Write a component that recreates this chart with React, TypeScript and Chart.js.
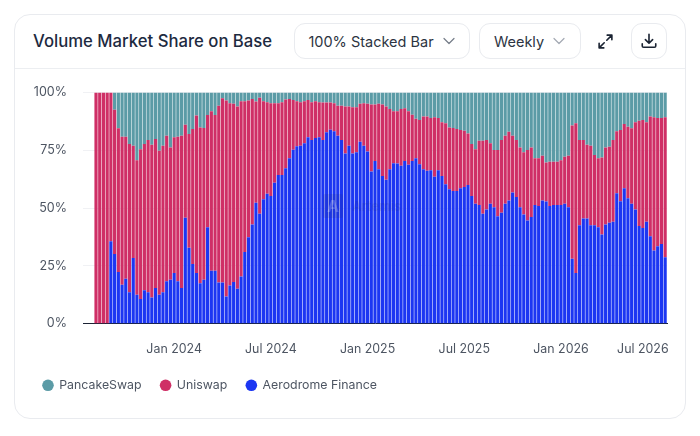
import { useEffect, useRef } from 'react';
import Chart from 'chart.js/auto';

const TICK_TEXT = ['Jan 2024', 'Jul 2024', 'Jan 2025', 'Jul 2025', 'Jan 2026', 'Jul 2026'];
const TICK_INDEX = [24, 50, 76, 102, 128, 150];
const Y_TICKS = [0, 25, 50, 75, 100];

const aerodrome = [
  0, 0, 0, 0, 0, 0, 0, 35.7, 30.1, 22.3, 16.8, 19.4, 13.6, 28.4, 12.5, 10.7, 14.5, 13.6, 11.3, 15.4,
  12.5, 13.6, 18.3, 19.0, 21.9, 18.3, 15.4, 45.8, 32.8, 25.8, 21.9, 17.5, 19.0, 41.7, 22.9, 22.9, 17.8, 17.8,
  11.7, 16.5, 18.0, 15.1, 20.4, 31.0, 37.4, 42.9, 52.3, 47.5, 53.8, 56.2, 55.2, 61.0, 64.3, 64.3, 67.2, 71.6,
  75.2, 76.7, 77.0, 78.0, 80.6, 79.4, 80.3, 80.6, 79.4, 82.8, 83.9, 83.2, 81.3, 79.4, 73.6, 77.0, 73.6, 74.1,
  78.7, 77.0, 74.5, 65.8, 70.4, 66.8, 63.9, 62.2, 66.8, 69.4, 69.3, 68.3, 70.4, 68.7, 70.4, 71.6, 69.0, 66.8,
  66.1, 66.4, 63.5, 66.4, 63.9, 60.3, 58.1, 57.4, 57.4, 58.6, 59.1, 60.0, 55.2, 51.9, 51.3, 47.5, 49.4, 51.9,
  50.4, 46.5, 48.0, 51.9, 53.3, 56.7, 54.8, 50.4, 47.2, 44.6, 46.1, 51.3, 50.9, 53.3, 52.8, 50.9, 51.3, 51.3,
  51.3, 51.9, 50.4, 28.1, 21.9, 42.6, 45.5, 45.5, 42.6, 42.6, 41.7, 38.6, 42.9, 43.6, 44.1, 56.4, 53.0, 58.6,
  54.2, 51.9, 49.4, 42.2, 41.4, 44.1, 37.8, 31.6, 33.5, 34.5, 28.7,
];
const uniswap = [
  0, 0, 0, 100, 100, 100, 100, 64.3, 62.4, 62.2, 64.1, 61.5, 64.1, 48.6, 58.2, 64.8, 63.2, 65.8, 66.1, 64.5,
  62.3, 63.4, 63.0, 57.2, 58.7, 62.6, 65.9, 40.3, 49.2, 58.4, 68.1, 67.4, 65.6, 48.6, 69.0, 67.4, 76.5, 79.7,
  84.8, 78.9, 77.1, 78.8, 75.8, 65.2, 59.1, 54.3, 43.8, 50.2, 42.4, 39.6, 40.2, 34.4, 31.1, 31.5, 29.8, 25.6,
  21.6, 19.5, 18.8, 18.2, 16.2, 16.4, 15.9, 15.2, 16.3, 12.9, 11.8, 12.2, 13.0, 14.9, 20.3, 16.9, 20.0, 19.5,
  16.4, 18.4, 20.6, 29.0, 24.4, 28.3, 30.9, 31.7, 26.1, 22.5, 22.6, 24.6, 22.8, 23.2, 20.0, 17.0, 19.1, 22.8,
  23.5, 22.6, 25.8, 22.6, 23.2, 26.4, 26.8, 27.2, 26.8, 25.2, 24.4, 22.3, 22.5, 23.6, 27.8, 31.6, 30.0, 26.1,
  24.7, 28.6, 31.4, 29.4, 29.7, 24.6, 24.6, 25.8, 26.9, 30.5, 30.1, 20.3, 20.7, 19.3, 16.9, 19.1, 18.7, 18.7,
  19.4, 20.3, 22.2, 57.6, 64.8, 36.8, 33.9, 31.9, 34.4, 30.4, 29.9, 33.3, 33.3, 32.9, 35.3, 26.8, 30.8, 27.8,
  31.0, 32.6, 37.7, 45.6, 46.7, 43.0, 51.8, 57.7, 55.5, 54.5, 60.6,
];
const pancakeswap = [
  0, 0, 0, 0, 0, 0, 0, 0, 7.5, 15.5, 19.1, 19.1, 22.3, 23.0, 29.3, 24.5, 22.3, 20.6, 22.6, 20.1,
  25.2, 23.0, 18.7, 23.8, 19.4, 19.1, 18.7, 13.9, 18.0, 15.8, 10.0, 15.1, 15.4, 9.7, 8.1, 9.7, 5.7, 2.5,
  3.5, 4.6, 4.9, 6.1, 3.8, 3.8, 3.5, 2.8, 3.9, 2.3, 3.8, 4.2, 4.6, 4.6, 4.6, 4.2, 3.0, 2.8,
  3.2, 3.8, 4.2, 3.8, 3.2, 4.2, 3.8, 4.2, 4.3, 4.3, 4.3, 4.6, 5.7, 5.7, 6.1, 6.1, 6.4, 6.4,
  4.9, 4.6, 4.9, 5.2, 5.2, 4.9, 5.2, 6.1, 7.1, 8.1, 8.1, 7.1, 6.8, 8.1, 9.6, 11.4, 11.9, 10.4,
  10.4, 11.0, 10.7, 11.0, 12.9, 13.3, 15.1, 15.4, 15.8, 16.2, 16.5, 17.7, 22.3, 24.5, 20.9, 20.9, 20.6, 22.0,
  24.9, 24.9, 20.6, 18.7, 17.0, 18.7, 20.6, 23.8, 25.9, 24.9, 23.8, 28.4, 28.4, 27.4, 30.3, 30.0, 30.0, 30.0,
  29.3, 27.8, 27.4, 14.3, 13.3, 20.6, 20.6, 22.6, 23.0, 27.0, 28.4, 28.1, 23.8, 23.5, 20.6, 16.8, 16.2, 13.6,
  14.8, 15.5, 12.9, 12.2, 11.9, 12.9, 10.4, 10.7, 11.0, 11.0, 10.7,
];

const labels = aerodrome.map((_, i) => {
  const at = TICK_INDEX.indexOf(i);
  return at >= 0 ? TICK_TEXT[at] : '';
});

const FONT = 'Inter, "Noto Sans", sans-serif';
const TEXT = '#4d5562';

function Box({ left, width, children }: { left: number; width: number; children: React.ReactNode }) {
  return (
    <div
      style={{
        position: 'absolute',
        left,
        top: 23,
        width,
        height: 36,
        boxSizing: 'border-box',
        border: '1px solid #e9ebef',
        borderRadius: 11,
        display: 'flex',
        alignItems: 'center',
        justifyContent: 'center',
        background: '#fff',
      }}
    >
      {children}
    </div>
  );
}

function Chevron({ color }: { color: string }) {
  return (
    <svg width="14" height="9" viewBox="0 0 14 9" style={{ marginLeft: 8 }}>
      <path d="M2 1.5 L7 6.5 L12 1.5" fill="none" stroke={color} strokeWidth="1.2" strokeLinecap="round" strokeLinejoin="round" />
    </svg>
  );
}

export default function App() {
  const canvasRef = useRef<HTMLCanvasElement>(null);

  useEffect(() => {
    if (!canvasRef.current) return;
    const chart = new Chart(canvasRef.current, {
      type: 'bar',
      data: {
        labels,
        datasets: [
          { label: 'Aerodrome Finance', data: aerodrome, backgroundColor: '#1c36f2', borderWidth: 0 },
          { label: 'Uniswap', data: uniswap, backgroundColor: '#cf2f66', borderWidth: 0 },
          { label: 'PancakeSwap', data: pancakeswap, backgroundColor: '#5b9ba6', borderWidth: 0 },
        ],
      },
      options: {
        animation: false,
        responsive: false,
        maintainAspectRatio: false,
        datasets: { bar: { barPercentage: 0.86, categoryPercentage: 1 } },
        layout: { padding: { left: 10, right: 19, top: 23, bottom: 16.5 } },
        plugins: {
          tooltip: { enabled: false },
          legend: {
            position: 'bottom',
            align: 'start',
            reverse: true,
            labels: {
              usePointStyle: true,
              pointStyle: 'circle',
              boxWidth: 10,
              boxHeight: 8.2,
              padding: 19,
              color: TEXT,
              font: { family: FONT, size: 12.35 },
            },
          },
        },
        scales: {
          x: {
            stacked: true,
            grid: { display: false },
            border: { color: '#1b2233', width: 1 },
            ticks: {
              autoSkip: false,
              maxRotation: 0,
              minRotation: 0,
              padding: 10,
              color: TEXT,
              font: { family: FONT, size: 12.4 },
              callback: (_, i) => labels[i] || null,
            },
            afterFit: (scale) => {
              scale.height = 36.5;
            },
          },
          y: {
            stacked: true,
            min: 0,
            max: 100,
            afterBuildTicks: (scale) => {
              scale.ticks = Y_TICKS.map((value) => ({ value }));
            },
            grid: { color: '#f0f1f4', drawTicks: false },
            border: { display: false },
            ticks: {
              padding: 16,
              color: TEXT,
              font: { family: FONT, size: 12.5 },
              callback: (v) => `${v}%`,
            },
            afterFit: (scale) => {
              scale.width = 59;
            },
          },
        },
      },
    });
    return () => chart.destroy();
  }, []);

  return (
    <div style={{ position: 'fixed', inset: 0, background: '#fff', fontFamily: FONT, color: '#2c3442' }}>
      <div
        style={{
          position: 'absolute',
          left: 14,
          top: 14,
          width: 672,
          height: 405,
          boxSizing: 'border-box',
          border: '1px solid #e9ebef',
          borderRadius: 16,
        }}
      />
      <div style={{ position: 'absolute', left: 15, top: 68, width: 670, height: 1, background: '#eceef1' }} />
      <div
        style={{
          position: 'absolute',
          left: 33,
          top: 28,
          fontSize: 16.7,
          fontWeight: 500,
          lineHeight: '26px',
          color: '#1d2a3f',
          whiteSpace: 'nowrap',
        }}
      >
        Volume Market Share on Base
      </div>
      <Box left={294} width={176}>
        <span style={{ fontSize: 14.5, whiteSpace: 'nowrap' }}>100% Stacked Bar</span>
        <Chevron color="#757c88" />
      </Box>
      <Box left={479} width={102}>
        <span style={{ fontSize: 14.5 }}>Weekly</span>
        <Chevron color="#a3a9b3" />
      </Box>
      <svg width="17" height="17" viewBox="0 0 20 20" style={{ position: 'absolute', left: 597, top: 33 }}>
        <path
          d="M12 2.5 H17.5 V8 M17.5 2.5 L11.5 8.5 M8.5 11.5 L2.5 17.5 M2.5 12 V17.5 H8"
          fill="none"
          stroke="#1b2433"
          strokeWidth="1.9"
          strokeLinecap="round"
          strokeLinejoin="round"
        />
      </svg>
      <Box left={631} width={36}>
        <svg width="18" height="18" viewBox="0 0 20 20">
          <path
            d="M10 2.5 V12 M6 8.5 L10 12.5 L14 8.5 M2.5 13 V15.5 Q2.5 17 4 17 H16 Q17.5 17 17.5 15.5 V13"
            fill="none"
            stroke="#1b2433"
            strokeWidth="1.8"
            strokeLinecap="round"
            strokeLinejoin="round"
          />
        </svg>
      </Box>
      <div style={{ position: 'absolute', left: 14, top: 69 }}>
        <canvas ref={canvasRef} width={672} height={349} style={{ display: 'block' }} />
      </div>
      <div
        style={{
          position: 'absolute',
          left: 323,
          top: 194,
          width: 20,
          height: 24,
          borderRadius: 2,
          background: 'rgba(30,40,90,0.12)',
          color: 'rgba(255,255,255,0.2)',
          fontSize: 16,
          fontWeight: 700,
          lineHeight: '24px',
          textAlign: 'center',
        }}
      >
        A
      </div>
      <div
        style={{
          position: 'absolute',
          left: 352,
          top: 198,
          fontSize: 13,
          fontWeight: 600,
          lineHeight: '16px',
          color: 'rgba(30,40,90,0.12)',
        }}
      >
        Artemis
      </div>
    </div>
  );
}
